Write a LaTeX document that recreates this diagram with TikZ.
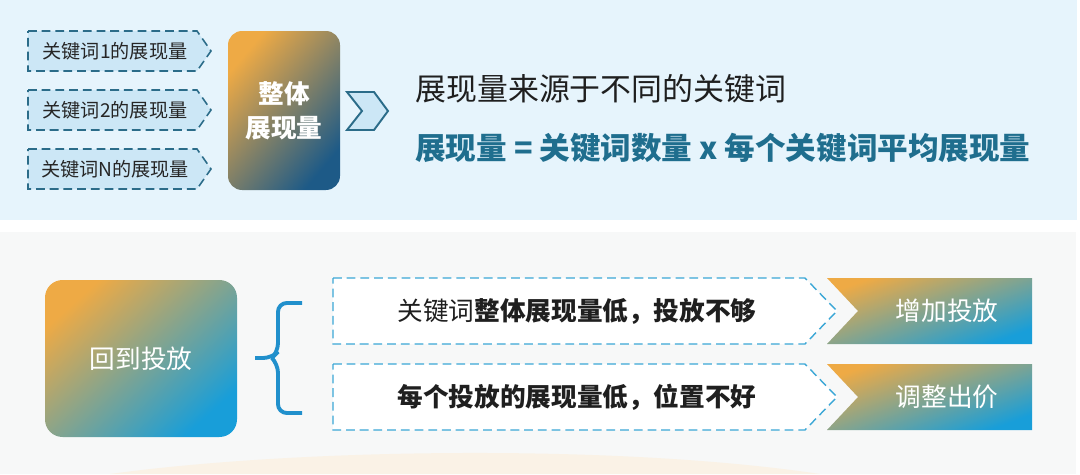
\documentclass[tikz,border=0pt]{standalone}
\usepackage{fontspec}
\setmainfont{Noto Sans CJK SC}
\definecolor{panelblue}{HTML}{E6F4FC}
\definecolor{panelgray}{HTML}{F7F8F8}
\definecolor{kwfill}{HTML}{CCE7F6}
\definecolor{kwline}{HTML}{2B6C89}
\definecolor{gradorange}{HTML}{EEAA45}
\definecolor{gradnavy}{HTML}{1D5A87}
\definecolor{gradblue}{HTML}{189ED9}
\definecolor{dashblue}{HTML}{3BA7D6}
\definecolor{bracecol}{HTML}{2190CC}
\definecolor{formulacol}{HTML}{1F6E8E}
\definecolor{swooshcol}{HTML}{FAF2E6}

\begin{document}
\begin{tikzpicture}[x=0.02cm, y=-0.02cm,
  kwbox/.style={fill=kwfill, draw=kwline, line width=0.9pt, dash pattern=on 5pt off 2.8pt},
  kwtext/.style={font=\fontsize{10.9}{12}\selectfont, text=black!85},
  darkgrad/.style={shading=axis, top color=gradorange, bottom color=gradnavy, shading angle=50},
  lightgrad/.style={shading=axis, top color=gradorange, bottom color=gradblue, shading angle=42},
  notchgrad/.style={shading=axis, top color=gradorange, bottom color=gradblue, shading angle=20},
  whitetext/.style={text=white, font=\bfseries\fontsize{14.6}{19}\selectfont, align=center},
  plantext/.style={text=black!88, font=\fontsize{14.6}{17}\selectfont},
  dashbox/.style={fill=white, draw=dashblue, line width=0.8pt, dash pattern=on 5pt off 2.8pt}]
  \useasboundingbox (0,0) rectangle (1080,474);
  % Panels
  \fill[white] (0,0) rectangle (1080,474);
  \fill[panelblue] (0,0) rectangle (1077,220);
  \fill[panelgray] (0,232) rectangle (1076,474);
  \fill[swooshcol] (110,474) .. controls (300,448) and (620,444) .. (820,474) -- cycle;

  % Keyword pieces
  \foreach \k/\y in {1/51, 2/110, N/169} {
    \draw[kwbox] (28,\y-20) -- (197,\y-20) -- (211,\y) -- (197,\y+20) -- (28,\y+20) -- cycle;
    \node[kwtext] (kw\k) at (115,\y) {关键词\k 的展现量};
  }
  % Total impressions
  \shade[darkgrad, rounded corners=8pt] (228,31) rectangle (340,190);
  \node[whitetext] (total) at (284,111) {整体\\展现量};
  % Chevron
  \draw[fill=kwfill, draw=kwline, line width=1.1pt, line join=miter]
    (347,92) -- (374,92) -- (388,111) -- (374,130) -- (347,130) -- (362,111) -- cycle;
  % Statements
  \node[anchor=west, inner sep=0pt, text=black!88, font=\fontsize{17.6}{20}\selectfont] (source) at (415,89) {展现量来源于不同的关键词};
  \node[anchor=west, inner sep=0pt, text=formulacol, font=\bfseries\fontsize{17.4}{20}\selectfont] (formula) at (415,148) {展现量 = 关键词数量 x 每个关键词平均展现量};

  % Back to placement
  \shade[lightgrad, rounded corners=10pt] (45,280) rectangle (237,437);
  \node[whitetext, font=\fontsize{14.6}{19}\selectfont] (back) at (141,359) {回到投放};
  % Brace
  \draw[bracecol, line width=2.2pt, rounded corners=5pt] (302,303) -- (278,303) -- (278,352) -- (272,358) -- (255,358);
  \draw[bracecol, line width=2.2pt, rounded corners=5pt] (302,413) -- (278,413) -- (278,364) -- (272,358);
  % Causes and actions
  \foreach \y/\cause/\action/\nm in {311/{关键词\textbf{整体展现量低，投放不够}}/增加投放/a,
                                    397/{\textbf{每个投放的展现量低，位置不好}}/调整出价/b} {
    \draw[dashbox] (333,\y-33) -- (805,\y-33) -- (837,\y) -- (805,\y+33) -- (333,\y+33) -- cycle;
    \node[plantext] (cause\nm) at (577,\y) {\cause};
    \shade[notchgrad] (827,\y-33) -- (1032,\y-33) -- (1032,\y+33) -- (827,\y+33) -- (858,\y) -- cycle;
    \node[whitetext, font=\fontsize{14.6}{19}\selectfont] (action\nm) at (947,\y) {\action};
  }
\end{tikzpicture}
\end{document}
